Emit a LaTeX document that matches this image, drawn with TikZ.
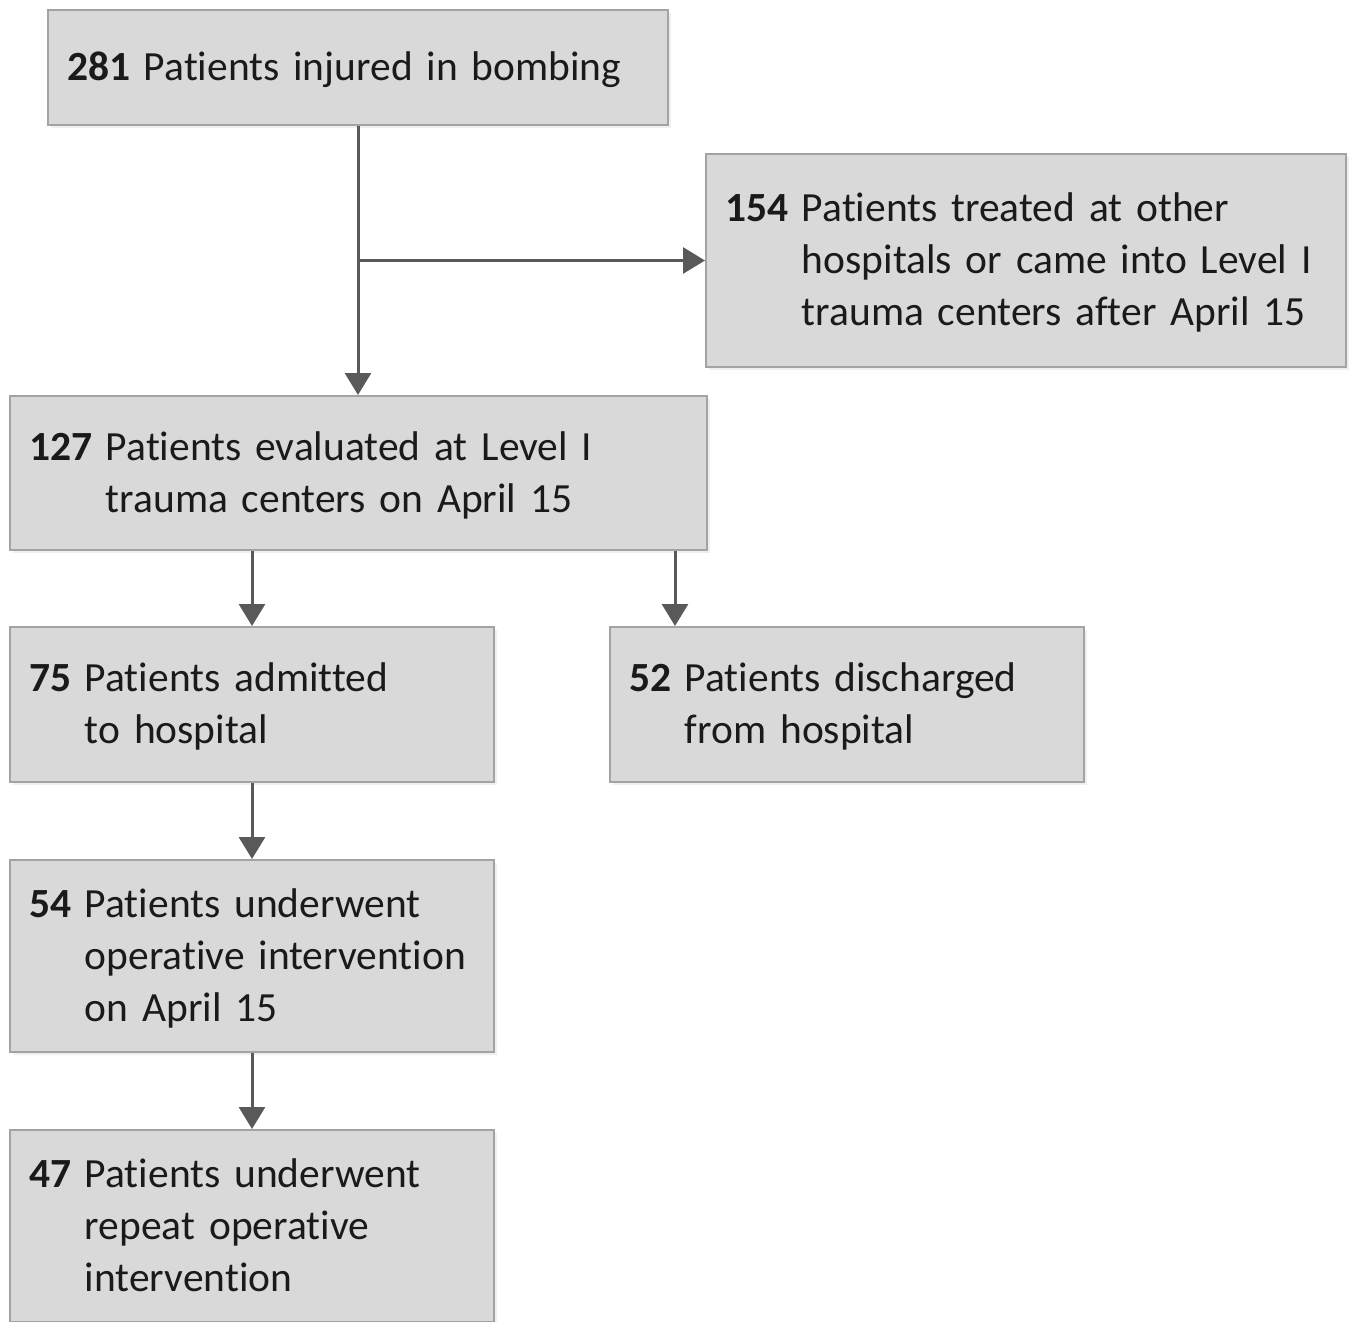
\documentclass[tikz,border=0pt]{standalone}
\usepackage{fontspec}
\setmainfont[Ligatures={NoCommon}]{Carlito}
\usetikzlibrary{arrows.meta,shadows}
\definecolor{boxfill}{HTML}{D9D9D9}
\definecolor{boxline}{HTML}{A3A3A3}
\definecolor{arrowcol}{HTML}{595959}
\definecolor{txt}{HTML}{1A1A1A}
\newcommand{\flowtxt}[2]{\raisebox{-3pt}[\height][\depth]{\begin{tabular}{@{}l@{\ }l@{}}\textbf{#1} & #2\end{tabular}}}
\begin{document}
\begin{tikzpicture}[x=1pt,y=-1pt,
  flowbox/.style={draw=boxline, line width=2pt, fill=boxfill, text=txt,
    rectangle, inner xsep=19pt, inner ysep=0pt, align=left,
    font=\fontsize{41.5}{52}\selectfont,
    drop shadow={shadow xshift=3pt, shadow yshift=-3pt, fill=black!12}},
  arr/.style={draw=arrowcol, line width=3pt,
    -{Triangle[length=22pt,width=26pt]}}]
\useasboundingbox (0,0) rectangle (1352,1322);
\node[flowbox, text width=582pt, minimum height=115pt] (n281) at (358,67.5)
  {\flowtxt{281}{Patients injured in bombing}};
\node[flowbox, text width=602pt, minimum height=213pt] (n154) at (1026,260.5)
  {\flowtxt{154}{Patients treated at other\\ & hospitals or came into Level I\\ & trauma centers after April 15}};
\node[flowbox, text width=659pt, minimum height=154pt] (n127) at (358.5,473)
  {\flowtxt{127}{Patients evaluated at Level I\\ & trauma centers on April 15}};
\node[flowbox, text width=446pt, minimum height=155pt] (n75) at (252,704.5)
  {\flowtxt{75}{Patients admitted\\ & to hospital}};
\node[flowbox, text width=436pt, minimum height=155pt] (n52) at (847,704.5)
  {\flowtxt{52}{Patients discharged\\ & from hospital}};
\node[flowbox, text width=446pt, minimum height=192pt] (n54) at (252,956)
  {\flowtxt{54}{Patients underwent\\ & operative intervention\\ & on April 15}};
\node[flowbox, text width=446pt, minimum height=192pt] (n47) at (252,1226)
  {\flowtxt{47}{Patients underwent\\ & repeat operative\\ & intervention}};
\coordinate (j) at (n281.south |- n154.west);
\draw[arr] (n281.south) -- (n281.south |- n127.north);
\draw[arr] (j) -- (n154.west);
\draw[arr] (n127.south -| n75.north) -- (n75.north);
\draw[arr] ([xshift=66pt]n127.south -| n52.north west) -- ([xshift=66pt]n52.north west);
\draw[arr] (n75.south) -- (n54.north);
\draw[arr] (n54.south) -- (n47.north);
\end{tikzpicture}
\end{document}
